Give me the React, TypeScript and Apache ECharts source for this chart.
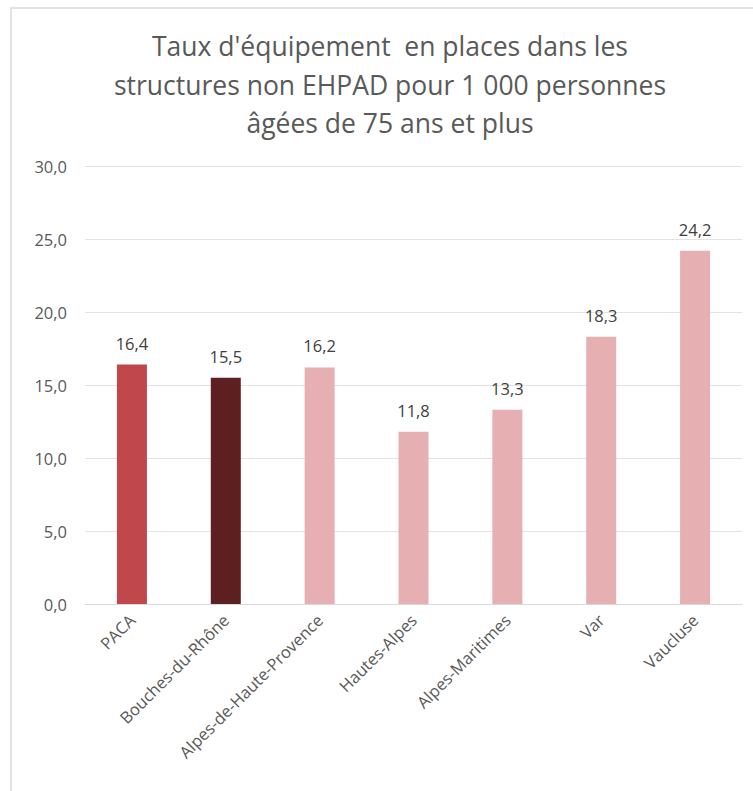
import React, { useEffect, useRef } from "react";
import * as echarts from "echarts";

const categories = [
  "PACA",
  "Bouches-du-Rhône",
  "Alpes-de-Haute-Provence",
  "Hautes-Alpes",
  "Alpes-Maritimes",
  "Var",
  "Vaucluse",
];
const values = [16.4, 15.5, 16.2, 11.8, 13.3, 18.3, 24.2];
const barColors = ["#C0474B", "#5E1F20", "#E6AFB1", "#E6AFB1", "#E6AFB1", "#E6AFB1", "#E6AFB1"];
const titleLines = [
  "Taux d'équipement  en places dans les",
  "structures non EHPAD pour 1 000 personnes",
  "âgées de 75 ans et plus",
];
const yMin = 0;
const yMax = 30;
const yInterval = 5;

const FONT = "'Open Sans', 'Noto Sans', sans-serif";

export default function App() {
  const ref = useRef<HTMLDivElement>(null);
  useEffect(() => {
    if (!ref.current) return;
    const chart = echarts.init(ref.current, undefined, { renderer: "svg" });
    const fmt = (v: number) => v.toFixed(1).replace(".", ",");
    chart.setOption({
      animation: false,
      backgroundColor: "#ffffff",
      textStyle: { fontFamily: FONT },
      graphic: [
        {
          type: "rect",
          shape: { x: 11, y: 8, width: 760, height: 800 },
          style: { fill: "none", stroke: "#D9D9D9", lineWidth: 1.5 },
          silent: true,
        },
        {
          type: "text",
          x: 390,
          y: 27,
          style: {
            text: titleLines.join("\n"),
            fontFamily: FONT,
            fontSize: 26.5,
            lineHeight: 38.5,
            fill: "#595959",
            align: "center",
            verticalAlign: "top",
          },
          silent: true,
        },
      ],
      grid: { left: 85, right: 11, top: 166, bottom: 187, containLabel: false },
      xAxis: {
        type: "category",
        data: categories,
        axisLine: { show: true, lineStyle: { color: "#D9D9D9" } },
        axisTick: { show: false },
        axisLabel: {
          rotate: 45,
          interval: 0,
          margin: 13,
          color: "#595959",
          fontSize: 16.5,
          fontFamily: FONT,
        },
      },
      yAxis: {
        type: "value",
        min: yMin,
        max: yMax,
        interval: yInterval,
        axisLine: { show: false },
        axisTick: { show: false },
        splitLine: { lineStyle: { color: "#E3E3E3" } },
        axisLabel: {
          formatter: (v: number) => fmt(v),
          color: "#595959",
          fontSize: 16.5,
          margin: 18,
          fontFamily: FONT,
        },
      },
      series: [
        {
          type: "bar",
          data: values.map((v, i) => ({ value: v, itemStyle: { color: barColors[i] } })),
          barWidth: 30,
          label: {
            show: true,
            position: "top",
            distance: 13,
            formatter: (p: any) => fmt(p.value),
            color: "#404040",
            fontSize: 16.5,
            fontFamily: FONT,
          },
        },
      ],
    });
    return () => chart.dispose();
  }, []);
  return (
    <div
      ref={ref}
      style={{ position: "absolute", left: 0, top: 0, width: 753, height: 791 }}
    />
  );
}
